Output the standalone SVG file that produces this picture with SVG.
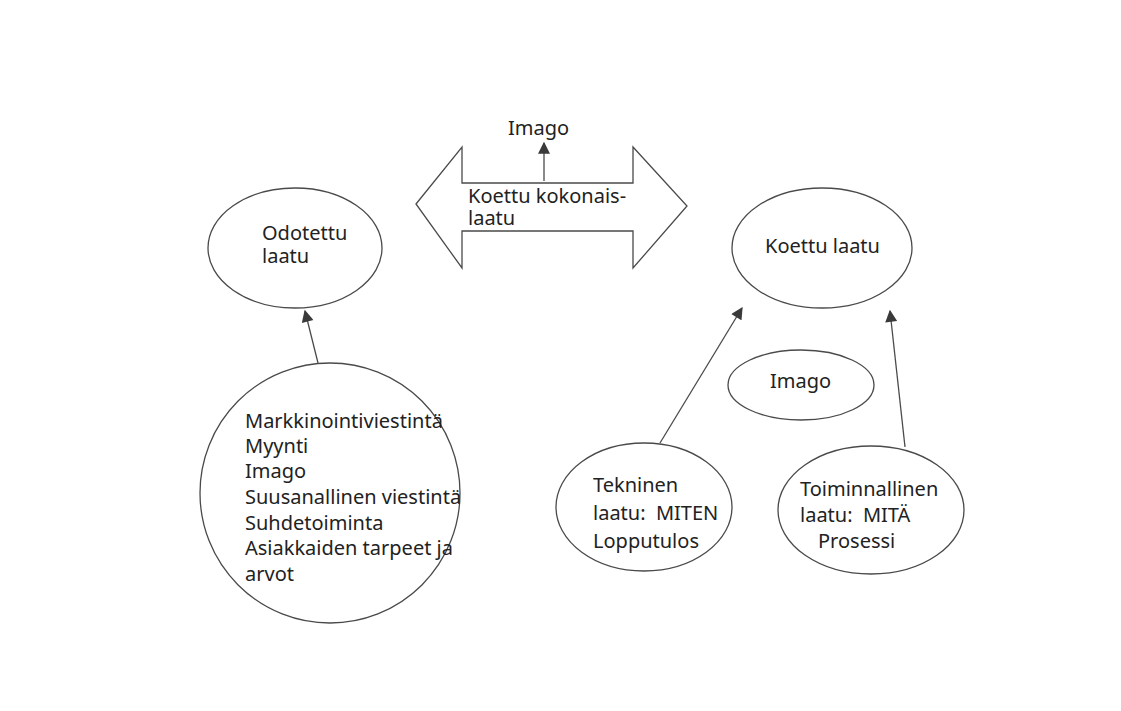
<svg xmlns="http://www.w3.org/2000/svg" width="1121" height="711" viewBox="0 0 1121 711">
<defs>
<style>
.shape{fill:none;stroke:#4a4a4a;stroke-width:1.3}
.t{font-family:"Noto Sans","Open Sans",sans-serif;font-size:20px;fill:#222;white-space:pre}
.c{stroke:#4a4a4a;stroke-width:1.3;fill:none}
</style>
<marker id="ah" viewBox="0 0 10 10" refX="9" refY="5" markerWidth="13" markerHeight="12" markerUnits="userSpaceOnUse" orient="auto">
<path d="M0,0 L10,5 L0,10 z" fill="#3a3a3a"/>
</marker>
</defs>
<rect width="1121" height="711" fill="#fff"/>
<g id="koettu-kokonaislaatu">
<polygon class="shape" points="416,204 462,147 462,183 633,183 633,147 687,206 633,268 633,231 462,231 462,268"/>
<text class="t" x="468" y="203">Koettu kokonais-</text>
<text class="t" x="468" y="225">laatu</text>
</g>
<g id="imago-top">
<text class="t" x="508" y="135">Imago</text>
</g>
<g id="odotettu">
<ellipse class="shape" cx="295" cy="248" rx="87" ry="60"/>
<text class="t" x="262" y="240">Odotettu</text>
<text class="t" x="262" y="263">laatu</text>
</g>
<g id="tekijat">
<ellipse class="shape" cx="330" cy="493" rx="130" ry="130"/>
<text class="t" x="245" y="428">Markkinointiviestintä</text>
<text class="t" x="245" y="453">Myynti</text>
<text class="t" x="245" y="478">Imago</text>
<text class="t" x="245" y="504">Suusanallinen viestintä</text>
<text class="t" x="245" y="530">Suhdetoiminta</text>
<text class="t" x="245" y="555">Asiakkaiden tarpeet ja</text>
<text class="t" x="245" y="581">arvot</text>
</g>
<g id="koettu-laatu">
<ellipse class="shape" cx="822" cy="248" rx="90" ry="60"/>
<text class="t" x="765" y="253">Koettu laatu</text>
</g>
<g id="imago">
<ellipse class="shape" cx="801" cy="385" rx="73" ry="35"/>
<text class="t" x="770" y="388">Imago</text>
</g>
<g id="tekninen">
<ellipse class="shape" cx="644" cy="507" rx="88" ry="64"/>
<text class="t" x="593" y="492">Tekninen</text>
<text class="t" x="593" y="520" xml:space="preserve">laatu:  MITEN</text>
<text class="t" x="593" y="548">Lopputulos</text>
</g>
<g id="toiminnallinen">
<ellipse class="shape" cx="871" cy="510" rx="93" ry="64"/>
<text class="t" x="800" y="496">Toiminnallinen</text>
<text class="t" x="800" y="522" xml:space="preserve">laatu:  MITÄ</text>
<text class="t" x="818" y="548">Prosessi</text>
</g>
<g id="connectors">
<line class="c" x1="544" y1="181" x2="544" y2="143" marker-end="url(#ah)"/>
<line class="c" x1="318" y1="363" x2="305" y2="311" marker-end="url(#ah)"/>
<line class="c" x1="660" y1="443" x2="742" y2="308" marker-end="url(#ah)"/>
<line class="c" x1="905" y1="447" x2="890" y2="311" marker-end="url(#ah)"/>
</g>
</svg>
